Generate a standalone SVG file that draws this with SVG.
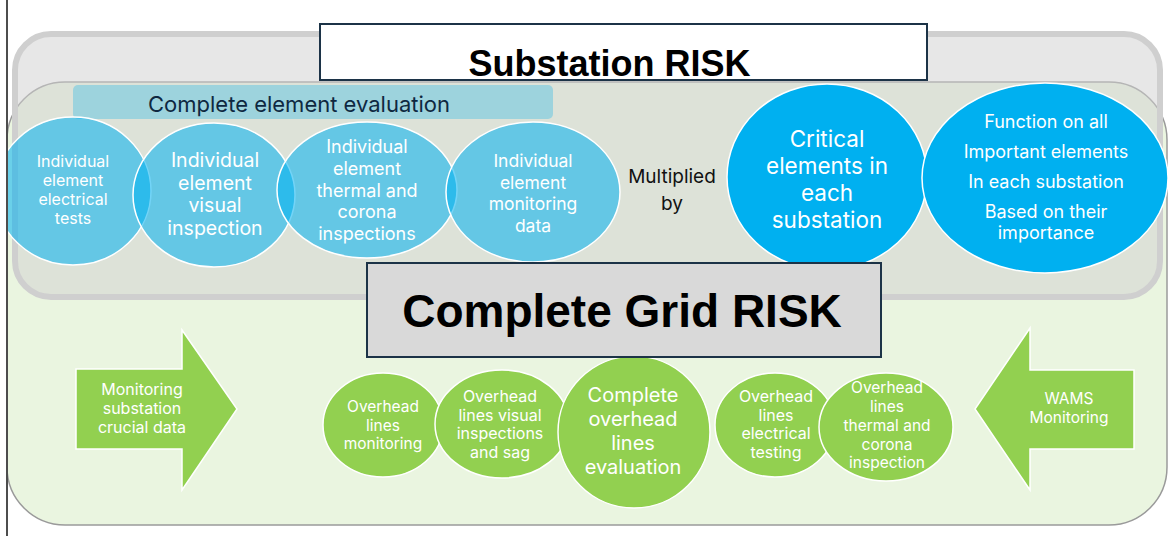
<svg xmlns="http://www.w3.org/2000/svg" width="1168" height="536" viewBox="0 0 1168 536">
<style>
.t{font-family:Inter,"Open Sans","Liberation Sans",sans-serif;fill:#fff;text-anchor:middle}
.dk{fill:#0e2841}
.bk{fill:#111}
.title{font-family:"Liberation Sans",Arial,sans-serif;font-weight:bold;fill:#000;text-anchor:middle}
.bc{fill:#00b0f0;fill-opacity:0.55;stroke:#fff;stroke-width:1.5}
.bs{fill:#00b0f0;stroke:#fff;stroke-width:1.5}
.gc{fill:#92d050;stroke:#fff;stroke-width:1.5}
.box{stroke:#1c3347;stroke-width:2}
</style>
<rect width="1168" height="536" fill="#fff"/>
<g id="grid-area">
<rect x="7" y="82" width="1160" height="443" rx="58" fill="#eaf5e0" stroke="#9a9a9a" stroke-width="1.5"/>
</g>
<g id="substation-area">
<rect x="15" y="34" width="1145" height="263" rx="36" fill="#cfcfcf" fill-opacity="0.5" stroke="#cfcfcf" stroke-width="6"/>
</g>
<g id="element-evaluation">
<rect x="73" y="85" width="480" height="34" rx="5" fill="#9dd3dd"/>
<text class="t dk" x="299" y="112" font-size="22">Complete element evaluation</text>
</g>
<g id="electrical-tests">
<ellipse class="bc" cx="73" cy="191" rx="78" ry="74"/>
<text class="t" font-size="16"><tspan x="73" y="167">Individual</tspan><tspan x="73" y="186">element</tspan><tspan x="73" y="205">electrical</tspan><tspan x="73" y="224">tests</tspan></text>
</g>
<g id="visual-inspection">
<ellipse class="bc" cx="214" cy="195" rx="81" ry="72"/>
<text class="t" font-size="19.5"><tspan x="215" y="167">Individual</tspan><tspan x="215" y="189.5">element</tspan><tspan x="215" y="212">visual</tspan><tspan x="215" y="234.5">inspection</tspan></text>
</g>
<g id="thermal-corona">
<ellipse class="bc" cx="367" cy="190" rx="90" ry="68"/>
<text class="t" font-size="18"><tspan x="367" y="153">Individual</tspan><tspan x="367" y="175">element</tspan><tspan x="367" y="196.5">thermal and</tspan><tspan x="367" y="218">corona</tspan><tspan x="367" y="239.5">inspections</tspan></text>
</g>
<g id="monitoring-data">
<ellipse class="bc" cx="533" cy="192" rx="87" ry="70"/>
<text class="t" font-size="17.5"><tspan x="533" y="167">Individual</tspan><tspan x="533" y="188.5">element</tspan><tspan x="533" y="210">monitoring</tspan><tspan x="533" y="231.5">data</tspan></text>
</g>
<g id="multiplied-by">
<text class="t bk" font-size="19"><tspan x="672" y="183">Multiplied</tspan><tspan x="672" y="210">by</tspan></text>
</g>
<g id="critical-elements">
<ellipse class="bs" cx="827" cy="177" rx="100" ry="93"/>
<text class="t" font-size="22.5"><tspan x="827" y="147">Critical</tspan><tspan x="827" y="174">elements in</tspan><tspan x="827" y="201">each</tspan><tspan x="827" y="228">substation</tspan></text>
</g>
<g id="function">
<ellipse class="bs" cx="1045" cy="178" rx="123" ry="95"/>
<text class="t" font-size="18"><tspan x="1046" y="128">Function on all</tspan><tspan x="1046" y="158">Important elements</tspan><tspan x="1046" y="188">In each substation</tspan><tspan x="1046" y="218">Based on their</tspan><tspan x="1046" y="239">importance</tspan></text>
</g>
<g id="substation-risk">
<rect class="box" x="320" y="24" width="607" height="56" fill="#fff"/>
<text class="title" x="609.5" y="76" font-size="36">Substation RISK</text>
</g>
<g id="monitoring-substation">
<polygon class="gc" points="76,369 182,369 182,330 237,409 182,490 182,449 76,449"/>
<text class="t" font-size="16"><tspan x="142" y="395">Monitoring</tspan><tspan x="142" y="414">substation</tspan><tspan x="142" y="433">crucial data</tspan></text>
</g>
<g id="wams">
<polygon class="gc" points="1134,370 1030,370 1030,328 975,409 1030,490 1030,449 1134,449"/>
<text class="t" font-size="15.5"><tspan x="1069" y="404">WAMS</tspan><tspan x="1069" y="423">Monitoring</tspan></text>
</g>
<g id="ohl-monitoring">
<ellipse class="gc" cx="383" cy="425" rx="60" ry="52"/>
<text class="t" font-size="15.5"><tspan x="383" y="412">Overhead</tspan><tspan x="383" y="431">lines</tspan><tspan x="383" y="449">monitoring</tspan></text>
</g>
<g id="ohl-visual">
<ellipse class="gc" cx="502" cy="424" rx="67" ry="54"/>
<text class="t" font-size="16"><tspan x="500" y="402">Overhead</tspan><tspan x="500" y="420.5">lines visual</tspan><tspan x="500" y="439">inspections</tspan><tspan x="500" y="457.5">and sag</tspan></text>
</g>
<g id="ohl-evaluation">
<ellipse class="gc" cx="634" cy="432" rx="76" ry="76"/>
<text class="t" font-size="20"><tspan x="633" y="402">Complete</tspan><tspan x="633" y="426">overhead</tspan><tspan x="633" y="450">lines</tspan><tspan x="633" y="474">evaluation</tspan></text>
</g>
<g id="ohl-electrical">
<ellipse class="gc" cx="775" cy="425" rx="60" ry="52"/>
<text class="t" font-size="16"><tspan x="776" y="402">Overhead</tspan><tspan x="776" y="420.5">lines</tspan><tspan x="776" y="439">electrical</tspan><tspan x="776" y="457.5">testing</tspan></text>
</g>
<g id="ohl-thermal">
<ellipse class="gc" cx="886" cy="427" rx="67" ry="54"/>
<text class="t" font-size="15.5"><tspan x="887" y="393">Overhead</tspan><tspan x="887" y="412">lines</tspan><tspan x="887" y="431">thermal and</tspan><tspan x="887" y="449.5">corona</tspan><tspan x="887" y="468">inspection</tspan></text>
</g>
<g id="grid-risk">
<rect class="box" x="367" y="263" width="514" height="94" fill="#d9d9d9"/>
<text class="title" x="622" y="327" font-size="46">Complete Grid RISK</text>
</g>
<g id="connectors"></g>
<rect x="0" y="0" width="6" height="536" fill="#fff"/>
<line x1="7" y1="0" x2="7" y2="536" stroke="#4d4d4d" stroke-width="2"/>
</svg>
